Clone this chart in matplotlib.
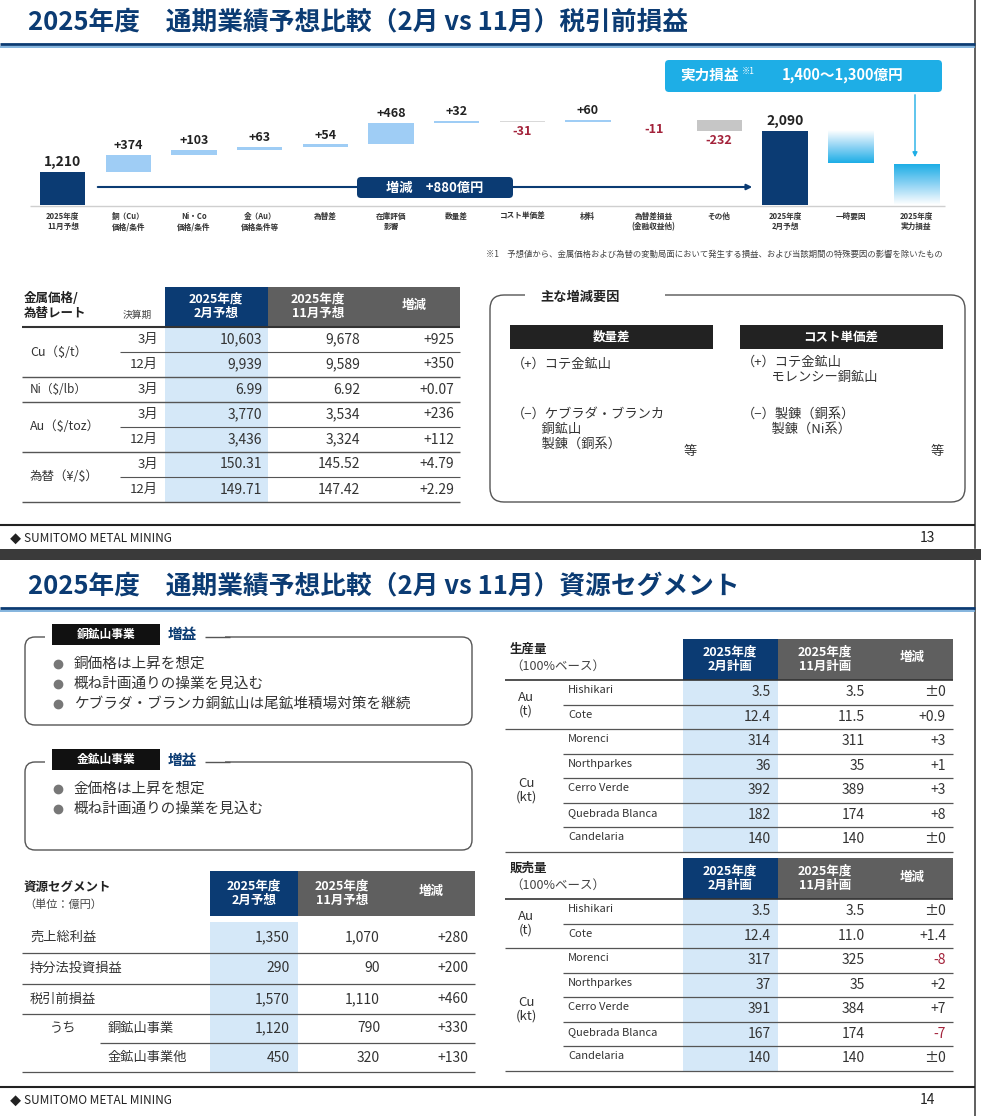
import numpy as np
import matplotlib
matplotlib.use('Agg')
from matplotlib import pyplot as plt
from matplotlib.patches import Rectangle, FancyBboxPatch

plt.rcParams['font.family'] = ['Noto Sans CJK JP', 'DejaVu Sans']

# ---- data: waterfall ----
wf_labels = ['2025年度\n11月予想', '銅（Cu）\n価格/条件', 'Ni・Co\n価格/条件', '金（Au）\n価格条件等', '為替差',
             '在庫評価\n影響', '数量差', 'コスト単価差', '材料', '為替差損益\n(金融収益他)', 'その他',
             '2025年度\n2月予想', '一時要因', '2025年度\n実力損益']
wf_start = 1210
wf_steps = [374, 103, 63, 54, 468, 32, -31, 60, -11, -232]
wf_end = 2090
wf_temp_low = 1400
wf_actual_top = 1380

# ---- data: metal price table ----
price_groups = ['Cu（$/t）', 'Ni（$/lb）', 'Au（$/toz）', '為替（¥/$）']
price_group_rows = [2, 1, 2, 2]
price_period = ['3月', '12月', '3月', '3月', '12月', '3月', '12月']
price_feb = ['10,603', '9,939', '6.99', '3,770', '3,436', '150.31', '149.71']
price_nov = ['9,678', '9,589', '6.92', '3,534', '3,324', '145.52', '147.42']
price_diff = ['+925', '+350', '+0.07', '+236', '+112', '+4.79', '+2.29']

# ---- data: resource segment ----
seg_labels = ['売上総利益', '持分法投資損益', '税引前損益', '銅鉱山事業', '金鉱山事業他']
seg_feb = ['1,350', '290', '1,570', '1,120', '450']
seg_nov = ['1,070', '90', '1,110', '790', '320']
seg_diff = ['+280', '+200', '+460', '+330', '+130']

# ---- data: production / sales ----
mines = ['Hishikari', 'Cote', 'Morenci', 'Northparkes', 'Cerro Verde', 'Quebrada Blanca', 'Candelaria']
prod_feb = ['3.5', '12.4', '314', '36', '392', '182', '140']
prod_nov = ['3.5', '11.5', '311', '35', '389', '174', '140']
prod_diff = ['±0', '+0.9', '+3', '+1', '+3', '+8', '±0']
sale_feb = ['3.5', '12.4', '317', '37', '391', '167', '140']
sale_nov = ['3.5', '11.0', '325', '35', '384', '174', '140']
sale_diff = ['±0', '+1.4', '-8', '+2', '+7', '-7', '±0']

NAVY = '#0b3b73'
LBLUE = '#9fcdf5'
COLBG = '#d5e8f8'
GRAY = '#5f5f5f'
RED = '#a3223a'
CYAN = '#1eaee6'

W, H = 981, 1116
fig = plt.figure(figsize=(W / 100, H / 100), dpi=100)
ax = fig.add_axes([0, 0, 1, 1])
ax.set_xlim(0, W)
ax.set_ylim(H, 0)
ax.axis('off')


def txt(x, y, s, size=10, ha='left', va='center', color='#222222', weight='normal', **kw):
    ax.text(x, y, s, fontsize=size, ha=ha, va=va, color=color, fontweight=weight, **kw)


def hline(y, x0, x1, color='#444444', lw=1.0):
    ax.plot([x0, x1], [y, y], color=color, lw=lw, solid_capstyle='butt')


def rect(x, y, w, h, color, **kw):
    ax.add_patch(Rectangle((x, y), w, h, facecolor=color, edgecolor='none', **kw))


y_title_text = {13: '2025年度　通期業績予想比較（2月 vs 11月）税引前損益',
                14: '2025年度　通期業績予想比較（2月 vs 11月）資源セグメント'}


def slide_frame(y_title, y_line, y_bottom, page):
    txt(28, y_title, y_title_text[page], size=18.5, color=NAVY, weight='bold')
    hline(y_line, 0, 975, color=NAVY, lw=2.0)
    hline(y_line + 3, 0, 975, color='#6fa8d8', lw=1.2)
    hline(y_bottom, 0, 975, color='#222222', lw=1.5)
    txt(10, y_bottom + 14, '◆', size=8, color='#222222')
    txt(24, y_bottom + 14, 'SUMITOMO METAL MINING', size=8.5, color='#222222')
    txt(935, y_bottom + 13, str(page), size=10, ha='right', color='#222222')


ax.plot([975, 975], [0, 548], color='#444444', lw=1.2)
ax.plot([975, 975], [560, 1116], color='#444444', lw=1.2)
rect(0, 549, W, 11, '#3a3a3a')
slide_frame(22, 44, 525, 13)
slide_frame(586, 608, 1087, 14)

# ================= waterfall =================
px_per = 0.0466
v0 = 502
x0_px, x1_px = 30, 949
top_px, base_px = 95, 205
wax = fig.add_axes([x0_px / W, 1 - base_px / H, (x1_px - x0_px) / W, (base_px - top_px) / H])
ylim = (v0, v0 + (base_px - top_px) / px_per)
wax.axis('off')
bw = 0.69
wax.bar(0, wf_start - v0, bottom=v0, width=bw, color=NAVY)
wax.text(0, wf_start + 60, f'{wf_start:,}', ha='center', va='bottom', fontsize=10, fontweight='bold', color='#222')
cum = wf_start
for i, s in enumerate(wf_steps, start=1):
    lo, hi = min(cum, cum + s), max(cum, cum + s)
    col = LBLUE if s > 0 else '#d9d9d9'
    if i == 10:
        col = '#c6c6c6'
    wax.bar(i, hi - lo, bottom=lo, width=bw, color=col)
    if s > 0:
        wax.text(i, hi + 60, f'+{s}', ha='center', va='bottom', fontsize=9, fontweight='bold', color='#222')
    else:
        wax.text(i, lo - 60, f'{s}', ha='center', va='top', fontsize=9, fontweight='bold', color=RED)
    cum += s
wax.bar(11, wf_end - v0, bottom=v0, width=bw, color=NAVY)
wax.text(11, wf_end + 60, f'{wf_end:,}', ha='center', va='bottom', fontsize=10, fontweight='bold', color='#222')
cmap = matplotlib.colors.LinearSegmentedColormap.from_list('g', ['#ffffff', '#8fd3f4', CYAN])
grad = np.linspace(0, 1, 64).reshape(-1, 1)
wax.imshow(grad, extent=[12 - bw / 2, 12 + bw / 2, wf_temp_low, wf_end], aspect='auto', cmap=cmap,
           origin='upper')
wax.imshow(grad, extent=[13 - bw / 2, 13 + bw / 2, v0, wf_actual_top], aspect='auto', cmap=cmap, origin='lower')
wax.set_xlim(-0.5, len(wf_labels) - 0.5)
wax.set_ylim(*ylim)

hline(206, 30, 945, color='#cfcfcf', lw=1)
xc = [x0_px + (i + 0.5) * (x1_px - x0_px) / len(wf_labels) for i in range(len(wf_labels))]
for x, lab in zip(xc, wf_labels):
    txt(x, 212, lab, size=5.5, ha='center', va='top', color='#333', weight='bold')
# +880 arrow
ax.annotate('', xy=(755, 187), xytext=(95, 187),
            arrowprops=dict(arrowstyle='-|>', color=NAVY, lw=1.5, mutation_scale=8))
ax.add_patch(FancyBboxPatch((357, 177), 156, 21, boxstyle='round,pad=0,rounding_size=4', fc=NAVY, ec='none'))
txt(435, 187.5, '増減　+880億円', size=9.5, ha='center', color='white', weight='bold')
# callout
ax.add_patch(FancyBboxPatch((665, 60), 277, 32, boxstyle='round,pad=0,rounding_size=4', fc=CYAN, ec='none'))
txt(680, 75, '実力損益', size=10.5, color='white', weight='bold')
txt(742, 71, '※1', size=6, color='white')
txt(782, 75, '1,400～1,300億円', size=10.5, color='white', weight='bold')
ax.annotate('', xy=(915, 160), xytext=(915, 92),
            arrowprops=dict(arrowstyle='-|>', color=CYAN, lw=1, mutation_scale=7))
txt(943, 254, '※1　予想値から、金属価格および為替の変動局面において発生する損益、および当該期間の特殊要因の影響を除いたもの',
    size=6, ha='right', color='#444')

# ================= metal price table =================
rect(165, 287, 103, 40, NAVY)
rect(268, 287, 100, 40, GRAY)
rect(368, 287, 92, 40, GRAY)
txt(24, 306, '金属価格/\n為替レート', size=9, weight='bold', linespacing=1.2)
txt(123, 315, '決算期', size=7, color='#444')
txt(216, 306, '2025年度\n2月予想', size=9, ha='center', color='white', weight='bold', linespacing=1.1)
txt(318, 306, '2025年度\n11月予想', size=9, ha='center', color='white', weight='bold', linespacing=1.1)
txt(414, 305, '増減', size=9, ha='center', color='white', weight='bold')
rh = 25
y = 327
rect(165, 327, 103, rh * 7, COLBG)
hline(327, 22, 460, color='#333', lw=1.5)
r = 0
for g, n in zip(price_groups, price_group_rows):
    txt(30, y + n * rh / 2, g, size=9 if g[0] != 'N' else 8.5, color='#333')
    for k in range(n):
        yc = y + rh / 2
        txt(158, yc, price_period[r], size=9.5, ha='right', color='#333')
        txt(262, yc, price_feb[r], size=10, ha='right', color='#333')
        txt(360, yc, price_nov[r], size=10, ha='right', color='#333')
        txt(454, yc, price_diff[r], size=10, ha='right', color='#333')
        y += rh
        r += 1
        if k < n - 1:
            hline(y, 120, 460, color='#555', lw=0.8)
    hline(y, 22, 460, color='#555', lw=1.0)

# factors box
ax.add_patch(FancyBboxPatch((490, 295), 475, 207, boxstyle='round,pad=0,rounding_size=14',
                            fc='none', ec='#555', lw=1))
rect(525, 288, 140, 14, 'white')
txt(540, 297, '主な増減要因', size=9.5, weight='bold', color='#222')
rect(510, 325, 203, 24, '#222222')
rect(740, 325, 203, 24, '#222222')
txt(611, 337, '数量差', size=9, ha='center', color='white', weight='bold')
txt(841, 337, 'コスト単価差', size=9, ha='center', color='white', weight='bold')
txt(512, 364, '（+）コテ金鉱山', size=9.5, color='#333')
txt(742, 356, '（+）コテ金鉱山\n　　 モレンシー銅鉱山', size=9.5, color='#333', va='top', linespacing=1.2)
txt(512, 408, '（−）ケブラダ・ブランカ\n　　 銅鉱山\n　　 製錬（銅系）', size=9.5, color='#333', va='top', linespacing=1.2)
txt(697, 451, '等', size=9.5, ha='right', color='#333')
txt(742, 408, '（−）製錬（銅系）\n　　 製錬（Ni系）', size=9.5, color='#333', va='top', linespacing=1.2)
txt(944, 451, '等', size=9.5, ha='right', color='#333')


# ================= slide 2 left boxes =================
def comment_box(y0, h, label, bullets):
    ax.add_patch(FancyBboxPatch((25, y0), 447, h, boxstyle='round,pad=0,rounding_size=10',
                                fc='none', ec='#555', lw=1))
    rect(45, y0 - 14, 180, 22, 'white')
    rect(52, y0 - 13, 108, 21, '#111111')
    txt(106, y0 - 2.5, label, size=8.5, ha='center', color='white', weight='bold')
    txt(168, y0 - 2.5, '増益', size=10.5, color=NAVY, weight='bold')
    hline(y0, 205, 230, color='#555', lw=1)
    for i, b in enumerate(bullets):
        yy = y0 + 27 + i * 20
        ax.plot(58, yy, 'o', color='#777', ms=6)
        txt(74, yy, b, size=10.5, color='#333')


comment_box(637, 88, '銅鉱山事業', ['銅価格は上昇を想定', '概ね計画通りの操業を見込む', 'ケブラダ・ブランカ銅鉱山は尾鉱堆積場対策を継続'])
comment_box(762, 88, '金鉱山事業', ['金価格は上昇を想定', '概ね計画通りの操業を見込む'])

# segment table
rect(210, 871, 88, 45, NAVY)
rect(298, 871, 89, 45, GRAY)
rect(387, 871, 88, 45, GRAY)
txt(24, 888, '資源セグメント', size=9, weight='bold')
txt(24, 905, '（単位：億円）', size=8, color='#444')
txt(254, 893, '2025年度\n2月予想', size=9, ha='center', color='white', weight='bold', linespacing=1.1)
txt(342, 893, '2025年度\n11月予想', size=9, ha='center', color='white', weight='bold', linespacing=1.1)
txt(431, 892, '増減', size=9, ha='center', color='white', weight='bold')
rect(210, 922, 88, 150, COLBG)
row_y = [922, 953, 984, 1014, 1043, 1072]
for i, lab in enumerate(seg_labels):
    yc = (row_y[i] + row_y[i + 1]) / 2
    txt(30 if i < 3 else 108, yc, lab, size=9.5, color='#333')
    txt(290, yc, seg_feb[i], size=10, ha='right', color='#333')
    txt(380, yc, seg_nov[i], size=10, ha='right', color='#333')
    txt(468, yc, seg_diff[i], size=10, ha='right', color='#333')
    hline(row_y[i + 1], 100 if i == 3 else 22, 475, color='#555', lw=0.9)
txt(50, 1028, 'うち', size=9.5, color='#333')


# production / sales tables
def mine_table(y0, title, feb, nov, diff):
    rect(683, y0, 95, 41, NAVY)
    rect(778, y0, 94, 41, GRAY)
    rect(872, y0, 81, 41, GRAY)
    txt(510, y0 + 10, title, size=9, weight='bold')
    txt(510, y0 + 27, '（100%ベース）', size=9, color='#444')
    txt(730, y0 + 20, '2025年度\n2月計画', size=9, ha='center', color='white', weight='bold', linespacing=1.1)
    txt(825, y0 + 20, '2025年度\n11月計画', size=9, ha='center', color='white', weight='bold', linespacing=1.1)
    txt(912, y0 + 19, '増減', size=9, ha='center', color='white', weight='bold')
    ys = y0 + 41
    rh = 24.5
    rect(683, ys, 95, rh * 7, COLBG)
    hline(ys, 505, 953, color='#333', lw=1.2)
    txt(526, ys + rh, 'Au\n(t)', size=9.5, ha='center', color='#333', linespacing=1.1)
    txt(526, ys + rh * 4.5, 'Cu\n(kt)', size=9.5, ha='center', color='#333', linespacing=1.1)
    for i, m in enumerate(mines):
        yc = ys + rh * (i + 0.5)
        txt(568, yc - 2, m, size=8, color='#333')
        txt(771, yc, feb[i], size=10, ha='right', color='#333')
        txt(865, yc, nov[i], size=10, ha='right', color='#333')
        txt(946, yc, diff[i], size=10, ha='right', color=RED if diff[i].startswith('-') else '#333')
        hline(ys + rh * (i + 1), 505 if i in (1, 6) else 563, 953, color='#555', lw=0.9)


mine_table(639, '生産量', prod_feb, prod_nov, prod_diff)
mine_table(858, '販売量', sale_feb, sale_nov, sale_diff)

fig.savefig('out.png', dpi=100)
